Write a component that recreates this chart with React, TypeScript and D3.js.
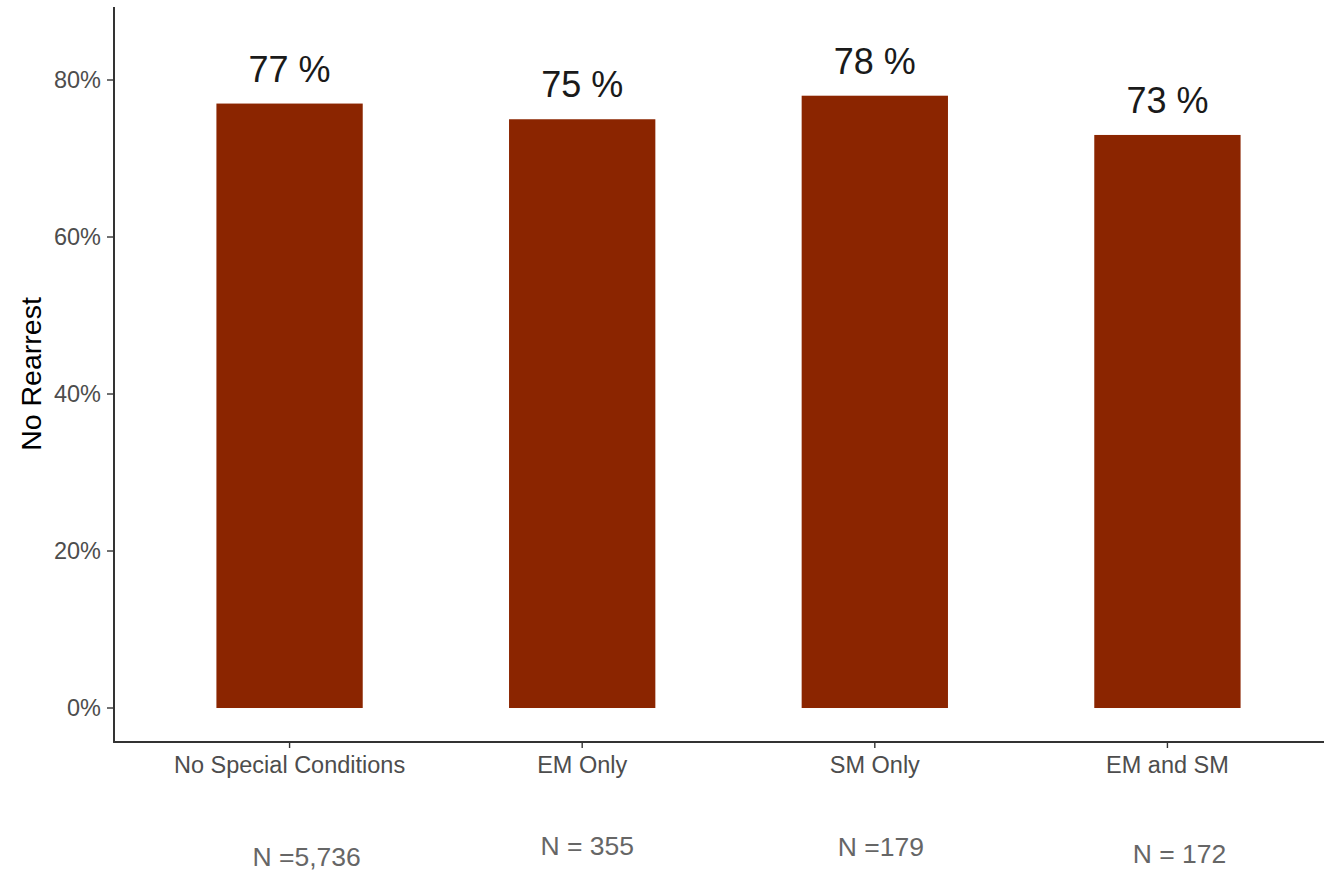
import React from "react";
import * as d3 from "d3";

const categories = ["No Special Conditions", "EM Only", "SM Only", "EM and SM"];
const values = [0.77, 0.75, 0.78, 0.73];
const valueLabels = ["77 %", "75 %", "78 %", "73 %"];
const nLabels = ["N =5,736", "N = 355", "N =179", "N = 172"];
const yTicks = [0, 0.2, 0.4, 0.6, 0.8];

// small manual nudges of the N annotations (px), as in the original
const nLabelDx = [17, 5, 6, 12];
const nLabelY = [866, 855, 856, 863];

const W = 1324;
const H = 871;
const FONT = "'Liberation Sans', Arial, Helvetica, sans-serif";

export default function App() {
  const x = d3
    .scaleBand<string>()
    .domain(categories)
    .range([114, 1343])
    .paddingInner(0.5)
    .paddingOuter(0.35);
  const y = d3.scaleLinear().domain([-0.0433, 0.893]).range([742, 7]);
  const fmt = d3.format(".0%");
  const bw = x.bandwidth();

  return (
    <svg
      width={W}
      height={H}
      style={{ position: "absolute", left: 0, top: 0, display: "block", background: "#fff" }}
      fontFamily={FONT}
    >
      <rect x={0} y={0} width={W} height={H} fill="#fff" />
      {categories.map((c, i) => (
        <g key={c}>
          <rect
            x={x(c)!}
            y={y(values[i])}
            width={bw}
            height={y(0) - y(values[i])}
            fill="#8B2500"
          />
          <text
            x={x(c)! + bw / 2}
            y={y(values[i]) - 22}
            textAnchor="middle"
            fontSize={36}
            fill="#1a1a1a"
          >
            {valueLabels[i]}
          </text>
        </g>
      ))}
      {/* y axis */}
      <line x1={114} x2={114} y1={y.range()[1]} y2={y.range()[0] + 0.75} stroke="#000" strokeWidth={1.6} />
      {yTicks.map((t) => (
        <g key={t}>
          <line x1={107} x2={114} y1={y(t)} y2={y(t)} stroke="#333" strokeWidth={1.4} />
          <text x={101} y={y(t)} dy="0.36em" textAnchor="end" fontSize={23.5} fill="#4d4d4d">
            {fmt(t)}
          </text>
        </g>
      ))}
      {/* x axis */}
      <line x1={113.2} x2={W} y1={742} y2={742} stroke="#333" strokeWidth={2.2} />
      {categories.map((c) => (
        <g key={"xt" + c}>
          <line
            x1={x(c)! + bw / 2}
            x2={x(c)! + bw / 2}
            y1={742}
            y2={748}
            stroke="#333"
            strokeWidth={1.4}
          />
          <text x={x(c)! + bw / 2} y={773} textAnchor="middle" fontSize={23.5} fill="#4d4d4d">
            {c}
          </text>
        </g>
      ))}
      {/* N annotations */}
      {categories.map((c, i) => (
        <text
          key={"n" + c}
          x={x(c)! + bw / 2 + nLabelDx[i]}
          y={nLabelY[i]}
          textAnchor="middle"
          fontSize={26.5}
          fill="#666666"
        >
          {nLabels[i]}
        </text>
      ))}
      {/* y title */}
      <text
        transform={`translate(41, 374) rotate(-90)`}
        textAnchor="middle"
        fontSize={28.5}
        fill="#000"
      >
        No Rearrest
      </text>
    </svg>
  );
}
